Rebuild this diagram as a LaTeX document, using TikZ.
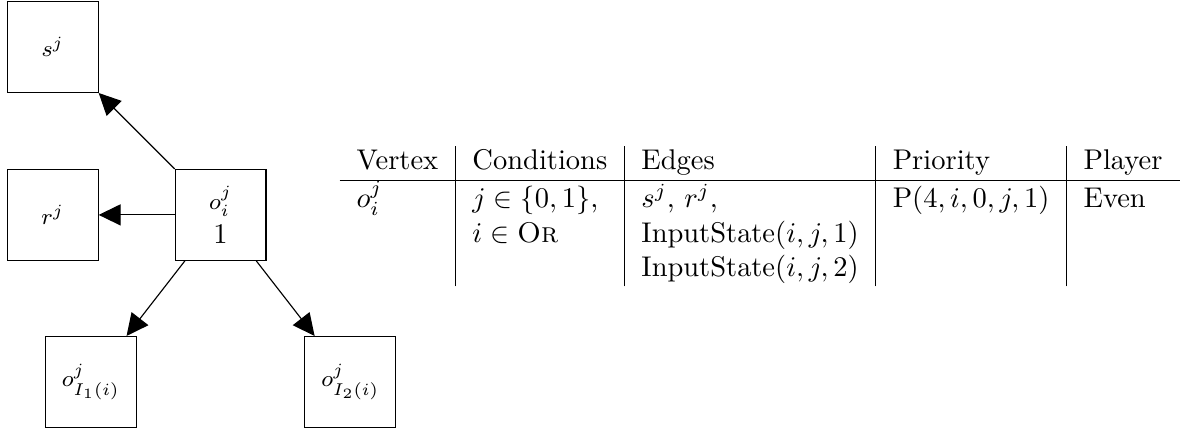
\documentclass[tikz,border=0pt]{standalone}
\usepackage{amsmath, amssymb}
\usepackage{tikz}
\usetikzlibrary{arrows.meta}

\begin{document}
\begin{tikzpicture}[
    vertex/.style={draw, minimum size=1.12cm, inner sep=1pt, align=center},
    edge/.style={-{Triangle[length=7.7pt, width=7.4pt]}}
]
        % Fix the page size
        \useasboundingbox (0,0) rectangle (14.6,5.34);

        % Draw the vertices
        \node[vertex] (s) at (0.65,4.76) {\footnotesize $s^j$};
        \node[vertex] (r) at (0.65,2.69) {\footnotesize $r^j$};
        \node[vertex] (o) at (2.72,2.69) {\footnotesize $o^j_i$\\1};
        \node[vertex] (o1) at (1.12,0.63) {\footnotesize $o^j_{I_1(i)}$};
        \node[vertex] (o2) at (4.32,0.63) {\footnotesize $o^j_{I_2(i)}$};

        % Draw the edges
        \draw[edge] (o) -- (s);
        \draw[edge] (o) -- (r);
        \draw[edge] (o) -- (o1);
        \draw[edge] (o) -- (o2);

        % Add the table
        \node[anchor=west, inner sep=0pt] (tab) at (4.18,2.676) {
            \begin{tabular}{l|l|l|l|l}
            Vertex & Conditions & Edges & Priority & Player \\ \hline
            $o^j_i$ & $j \in \{0,1\}$, & $s^j$, $r^j$, & $\mathrm{P}(4,i,0,j,1)$ & Even \\
             & $i \in \textsc{Or}$ & $\mathrm{InputState}(i,j,1)$ & & \\
             & & $\mathrm{InputState}(i,j,2)$ & & \\
            \end{tabular}
        };
\end{tikzpicture}
\end{document}
